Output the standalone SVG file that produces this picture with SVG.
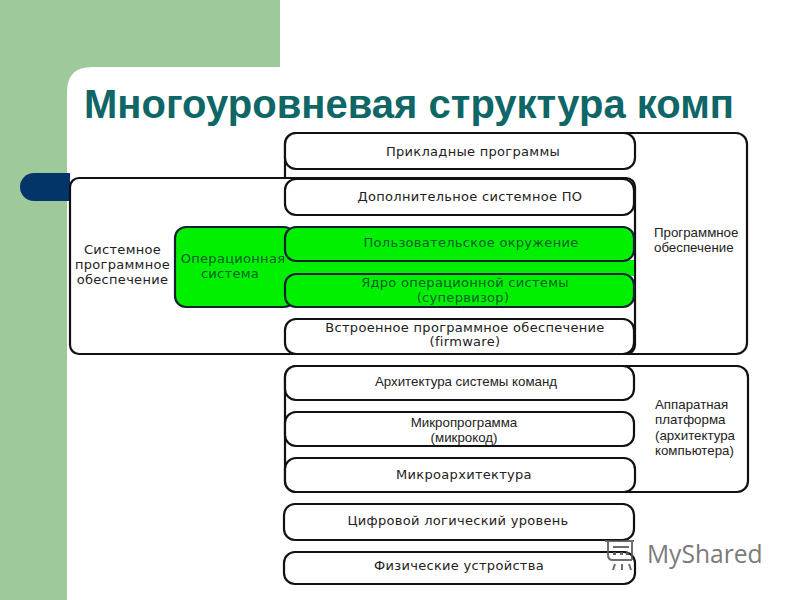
<svg xmlns="http://www.w3.org/2000/svg" width="800" height="600" viewBox="0 0 800 600">
<style>
.b{fill:#fff;stroke:#111;stroke-width:2.2}
.g{fill:#00f000;stroke:#123;stroke-width:2.2}
.o{fill:none;stroke:#111;stroke-width:2.2}
text{font-family:"DejaVu Sans",sans-serif;font-size:13px;letter-spacing:.3px;fill:#222;text-anchor:middle}
.gt{fill:#0b5f2a}
.l{font-family:"Liberation Sans",Arial,sans-serif;font-size:13.3px;letter-spacing:0;text-anchor:start}
.c{text-anchor:middle}
.t{font-family:"Liberation Sans",Arial,sans-serif;font-size:40px;font-weight:bold;letter-spacing:0;fill:#0f6666;text-anchor:start}
</style>
<rect width="800" height="600" fill="#fff"/>
<g id="background">
<path d="M0 0H280V67H92Q67 67 67 92V600H0Z" fill="#9dc99b"/>
<path d="M70 173H34A14 14 0 0 0 34 201H70Z" fill="#03356b"/>
</g>
<text id="title" class="t" x="84" y="118" textLength="650" lengthAdjust="spacing">Многоуровневая структура комп</text>
<g id="connectors">
<rect class="b" x="285" y="133" width="462" height="221" rx="11"/>
<rect class="b" x="285" y="366" width="463" height="126" rx="11"/>
<rect class="b" x="70" y="178" width="565" height="176" rx="9"/>
<rect class="g" x="175" y="227" width="120" height="80" rx="11"/>
<rect fill="#00f000" x="285" y="260" width="349" height="16"/>
</g>
<g id="n-software-label"><text class="l" x="654" y="237">Программное</text><text class="l" x="654" y="252">обеспечение</text></g>
<g id="n-system-label"><text x="122.500" y="254">Системное</text><text x="122.500" y="269">программное</text><text x="122.500" y="284">обеспечение</text></g>
<g id="n-os-label"><text class="gt" x="233" y="263">Операционная</text><text class="gt" x="230" y="278">система</text></g>
<g id="n-applications"><rect class="b" x="285" y="133" width="350" height="36" rx="11"/><text x="473" y="156">Прикладные программы</text></g>
<g id="n-additional"><rect class="b" x="285" y="179" width="349" height="36" rx="11"/><text x="470" y="201">Дополнительное системное ПО</text></g>
<g id="n-user-env"><rect class="g" x="285" y="227" width="349" height="34" rx="11"/><text class="gt" x="471" y="247">Пользовательское окружение</text></g>
<g id="n-kernel"><rect class="g" x="285" y="274" width="349" height="33" rx="11"/><text class="gt" x="465" y="287">Ядро операционной системы</text><text class="gt" x="463" y="302">(супервизор)</text></g>
<g id="n-firmware"><rect class="b" x="285" y="319" width="349" height="35" rx="11"/><text x="465" y="332">Встроенное программное обеспечение</text><text x="465" y="346">(firmware)</text></g>
<g id="n-hardware-label"><text class="l" x="655" y="409">Аппаратная</text><text class="l" x="655" y="424">платформа</text><text class="l" x="655" y="440">(архитектура</text><text class="l" x="655" y="455">компьютера)</text></g>
<g id="n-isa"><rect class="b" x="285" y="366" width="349" height="34" rx="11"/><text class="l c" x="466" y="386">Архитектура системы команд</text></g>
<g id="n-microprogram"><rect class="b" x="285" y="412" width="349" height="34" rx="11"/><text class="l c" x="464" y="427">Микропрограмма</text><text class="l c" x="464" y="442">(микрокод)</text></g>
<g id="n-microarch"><rect class="b" x="285" y="458" width="350" height="34" rx="11"/><text x="464" y="479">Микроархитектура</text></g>
<g id="n-digital"><rect class="b" x="284" y="504" width="350" height="36" rx="11"/><text x="448" y="525" dx="10">Цифровой логический уровень</text></g>
<g id="n-physical"><rect class="b" x="284" y="552" width="351" height="32" rx="11"/><text x="459" y="570">Физические устройства</text></g>
<g id="watermark">
<g fill="none" stroke="#555" stroke-width="2" opacity=".85"><path d="M605 541H634M608 541V555Q608 560 613 560H632M632 541V560M613 547H629M615 564L613 570M622 564V570M629 564L631 570"/></g>
<g fill="#555" opacity=".9"><rect x="613" y="552" width="3" height="3"/><rect x="620" y="552" width="3" height="3"/><rect x="626" y="552" width="3" height="3"/></g>
<text x="647" y="563" style="font-family:'Open Sans',sans-serif;font-size:24.6px;letter-spacing:0;fill:#7b7b7b;text-anchor:start">MyShared</text>
</g>
</svg>
